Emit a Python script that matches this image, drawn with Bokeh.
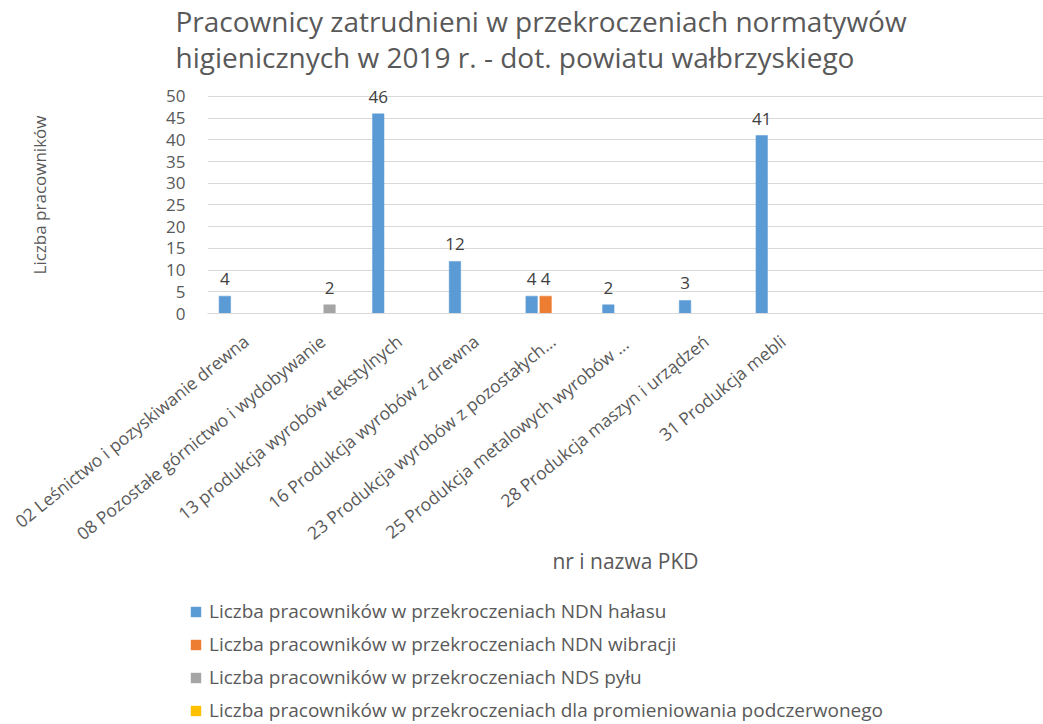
from bokeh.plotting import figure
from bokeh.layouts import column
from bokeh.models import Range1d, FixedTicker, Legend, LegendItem, ColumnDataSource
from bokeh.core.properties import value
from bokeh.embed import file_html
from bokeh.resources import INLINE

# ---------------- data ----------------
categories = [
    "02 Leśnictwo i pozyskiwanie drewna",
    "08 Pozostałe górnictwo i wydobywanie",
    "13 produkcja wyrobów tekstylnych",
    "16 Produkcja wyrobów z drewna",
    "23 Produkcja wyrobów z pozostałych…",
    "25 Produkcja metalowych  wyrobów …",
    "28 Produkcja maszyn i urządzeń",
    "31 Produkcja mebli",
]
halas = [4, None, 46, 12, 4, 2, 3, 41]
wibracje = [None, None, None, None, 4, None, None, None]
pyl = [None, 2, None, None, None, None, None, None]
podczerwien = [None, None, None, None, None, None, None, None]

series_names = [
    "Liczba pracowników w przekroczeniach NDN hałasu",
    "Liczba pracowników w przekroczeniach NDN wibracji",
    "Liczba pracowników w przekroczeniach NDS pyłu",
    "Liczba pracowników w przekroczeniach dla promieniowania podczerwonego",
]
series_values = [halas, wibracje, pyl, podczerwien]
colors = ["#5B9BD5", "#ED7D31", "#A5A5A5", "#FFC000"]
y_ticks = [0, 5, 10, 15, 20, 25, 30, 35, 40, 45, 50]

title_text = ("Pracownicy zatrudnieni w przekroczeniach normatywów\n"
              "higienicznych w 2019 r. - dot. powiatu wałbrzyskiego")
y_label = "Liczba pracowników"
x_label = "nr i nazwa PKD"

FONT = "Open Sans"
TXT = "#595959"

# ---------------- main chart ----------------
p = figure(width=1043, height=594, output_backend="svg", toolbar_location=None,
           x_range=Range1d(-0.5, 10.4), y_range=Range1d(0, 54.6),
           min_border_left=207, min_border_right=0, min_border_top=76, min_border_bottom=281)
p.outline_line_color = None

p.title.text = title_text
p.title.align = "left"
p.title.offset = -32
p.title.text_font = FONT
p.title.text_font_size = "28px"
p.title.text_font_style = "normal"
p.title.text_color = TXT
p.title.text_line_height = 0.95
p.title.standoff = 0

slot = 0.1825
bar_w = 0.15
legend_sources = []
for s, (vals, col) in enumerate(zip(series_values, colors)):
    xs, tops, labels = [], [], []
    for i, v in enumerate(vals):
        if v is not None:
            xs.append(i + (s - 1.5) * slot)
            tops.append(v)
            labels.append(str(v))
    src = ColumnDataSource(dict(x=xs, top=tops, label=labels))
    p.vbar(x="x", top="top", width=bar_w, bottom=0, source=src,
           fill_color=col, line_color=col, line_width=0.5)
    p.text(x="x", y="top", text="label", source=src, text_align="center",
           text_baseline="alphabetic", y_offset=-17, text_font=value(FONT),
           text_font_size="17px", text_color="#404040")
    # full series (blanks as 0) for the legend swatches
    legend_sources.append(ColumnDataSource(dict(
        x=[i + (s - 1.5) * slot for i in range(len(vals))],
        top=[0 if v is None else v for v in vals])))

# axes
p.xaxis.ticker = FixedTicker(ticks=list(range(len(categories))))
p.xaxis.major_label_overrides = {i: c for i, c in enumerate(categories)}
p.xaxis.major_label_orientation = 0.68
p.xaxis.major_label_text_font = FONT
p.xaxis.major_label_text_font_size = "17.5px"
p.xaxis.major_label_text_color = TXT
p.xaxis.major_label_standoff = 19
p.xaxis.major_tick_line_color = None
p.xaxis.minor_tick_line_color = None
p.xaxis.axis_line_color = "#D9D9D9"
p.xaxis.axis_label = x_label
p.xaxis.axis_label_text_font = FONT
p.xaxis.axis_label_text_font_size = "21px"
p.xaxis.axis_label_text_font_style = "normal"
p.xaxis.axis_label_text_color = TXT
p.xaxis.axis_label_standoff = -10

p.yaxis.ticker = FixedTicker(ticks=y_ticks)
p.yaxis.major_label_text_font = FONT
p.yaxis.major_label_text_font_size = "17px"
p.yaxis.major_label_text_color = TXT
p.yaxis.major_label_standoff = 16
p.yaxis.major_tick_line_color = None
p.yaxis.minor_tick_line_color = None
p.yaxis.axis_line_color = None
p.yaxis.axis_label = y_label
p.yaxis.axis_label_text_font = FONT
p.yaxis.axis_label_text_font_size = "17px"
p.yaxis.axis_label_text_font_style = "normal"
p.yaxis.axis_label_text_color = TXT
p.yaxis.axis_label_standoff = 112

p.xgrid.grid_line_color = None
p.ygrid.grid_line_color = "#D9D9D9"
p.ygrid.ticker = FixedTicker(ticks=y_ticks)

# ---------------- legend strip ----------------
# zero-width, stroke-less bars: nothing is drawn in the strip except
# the legend swatches, which take the series fill colours
leg = figure(width=1043, height=130, output_backend="svg", toolbar_location=None,
             x_range=Range1d(-0.5, 10.4), y_range=Range1d(-2, -1),
             min_border=0, min_border_left=0, min_border_right=0,
             min_border_top=0, min_border_bottom=0,
             x_axis_location=None, y_axis_location=None)
leg.outline_line_color = None
leg.xgrid.visible = False
leg.ygrid.visible = False
items = []
for name, src, col in zip(series_names, legend_sources, colors):
    r = leg.vbar(x="x", top="top", width=0, bottom=0, source=src,
                 fill_color=col, line_color=None)
    items.append(LegendItem(label=name, renderers=[r]))
legend = Legend(items=items, location=(189, 1), orientation="vertical",
                glyph_width=13, glyph_height=13, label_height=26, spacing=7,
                padding=0, margin=0, label_standoff=7, border_line_color=None,
                background_fill_alpha=0, label_text_font=FONT,
                label_text_font_size="19px", label_text_color=TXT)
leg.add_layout(legend)

layout = column(p, column(leg, spacing=0), spacing=0)
open("out.html", "w").write(file_html(layout, INLINE))
